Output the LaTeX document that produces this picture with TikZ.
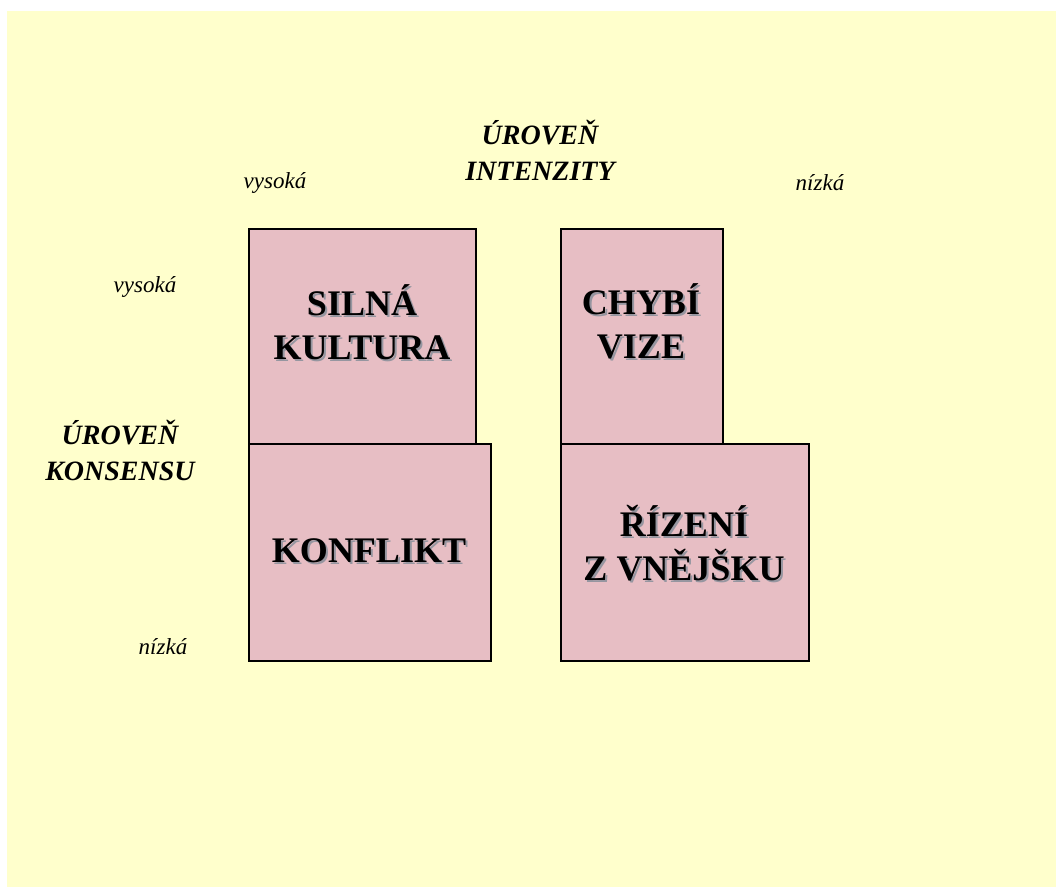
\documentclass[tikz,border=0pt]{standalone}
\usepackage{xcolor}
\usepackage{fontspec}
\setmainfont{Liberation Serif}
\usepackage{tikz}

\definecolor{pozadi}{HTML}{FFFFCC}
\definecolor{ruzova}{RGB}{231,190,196}
\definecolor{stin}{RGB}{150,150,160}

\begin{document}
\begin{tikzpicture}[x=1pt,y=-1pt,
  pole/.style={draw=black,line width=1.8pt,fill=ruzova,anchor=north west,inner sep=0pt},
  popis/.style={align=center,font=\fontsize{36}{44}\selectfont\bfseries},
  stinpopis/.style={popis,text=stin,xshift=2pt,yshift=-2pt},
  osa/.style={align=center,font=\fontsize{28}{36}\selectfont\bfseries\itshape},
  uroven/.style={font=\fontsize{23}{26}\selectfont\itshape}]
  \useasboundingbox (0,0) rectangle (1056,887);
  \fill[pozadi] (7,11) rectangle (1056,887);

  % ctyri pole
  \node[pole,minimum width=227pt,minimum height=215pt] (silna) at (248,228) {};
  \node[pole,minimum width=162pt,minimum height=215pt] (vize) at (560,228) {};
  \node[pole,minimum width=242pt,minimum height=217pt] (konflikt) at (248,443) {};
  \node[pole,minimum width=248pt,minimum height=217pt] (rizeni) at (560,443) {};

  % texty se stinem
  \node[stinpopis] at (362,322) {SILNÁ\\KULTURA};
  \node[popis] (tsilna) at (362,322) {SILNÁ\\KULTURA};
  \node[stinpopis] at (641,321) {CHYBÍ\\VIZE};
  \node[popis] (tvize) at (641,321) {CHYBÍ\\VIZE};
  \node[stinpopis] at (369,551) {KONFLIKT};
  \node[popis] (tkonflikt) at (369,551) {KONFLIKT};
  \node[stinpopis] at (684,543) {ŘÍZENÍ\\Z VNĚJŠKU};
  \node[popis] (trizeni) at (684,543) {ŘÍZENÍ\\Z VNĚJŠKU};

  % osy
  \node[osa] (intenzita) at (540,150) {ÚROVEŇ\\INTENZITY};
  \node[osa] (konsensus) at (120,450) {ÚROVEŇ\\KONSENSU};
  \node[uroven] (ivys) at (275,183) {vysoká};
  \node[uroven] (iniz) at (820,183) {nízká};
  \node[uroven] (kvys) at (145,287) {vysoká};
  \node[uroven] (kniz) at (163,647) {nízká};
\end{tikzpicture}
\end{document}
